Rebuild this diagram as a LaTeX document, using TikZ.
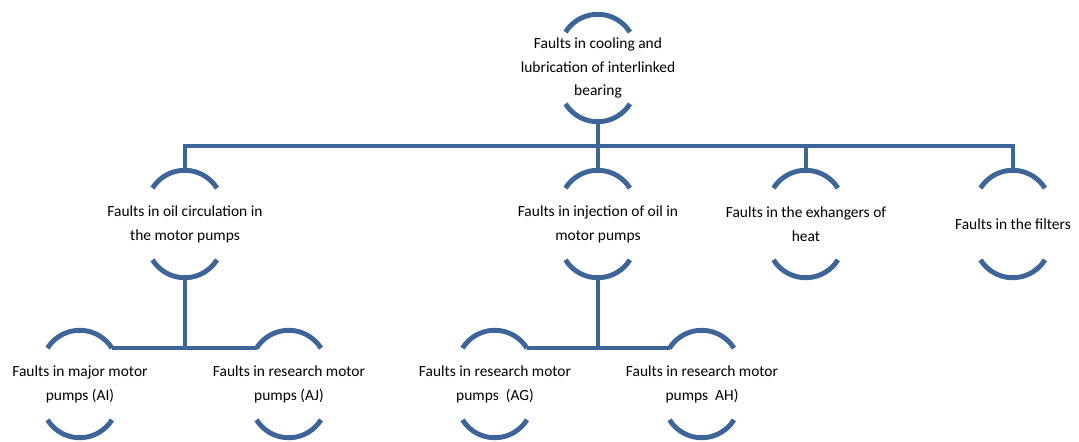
\documentclass[tikz,border=0pt]{standalone}
\usepackage{fontspec}
\setmainfont{Carlito}
\definecolor{faultblue}{RGB}{62,101,152}
\begin{document}
\begin{tikzpicture}[x=0.02cm,y=0.02cm,
    fault/.style={minimum width=1.3cm,minimum height=2.14cm,inner sep=0pt,align=center,
      font=\fontsize{8.8}{13.6}\selectfont},
    link/.style={draw=faultblue,line width=2.6pt},
    brace/.style={draw=faultblue,line width=2.8pt}]
  \useasboundingbox (0,0) rectangle (1079,-441);
  \node[fault] (cool) at (598,-68) {Faults in cooling and\\lubrication of interlinked\\bearing};
  \node[fault] (oil) at (185,-224) {Faults in oil circulation in\\the motor pumps};
  \node[fault] (inj) at (598,-224) {Faults in injection of oil in\\motor pumps};
  \node[fault] (heat) at (806,-224) {Faults in the exhangers of\\heat};
  \node[fault] (filt) at (1013,-224) {Faults in the filters};
  \node[fault] (ai) at (80,-384) {Faults in major motor\\pumps (AI)};
  \node[fault] (aj) at (289,-384) {Faults in research motor\\pumps (AJ)};
  \node[fault] (ag) at (495,-384) {Faults in research motor\\pumps~~(AG)};
  \node[fault] (ah) at (702,-384) {Faults in research motor\\pumps~~AH)};
  \foreach \n in {cool,oil,inj,heat,filt,ai,aj,ag,ah}{
    \draw[brace] ([shift={(-0.65cm,-0.36cm)}]\n.north) coordinate (\n-l)
      arc[start angle=148,end angle=32,radius=0.76cm] coordinate (\n-r);
    \draw[brace] ([shift={(-0.65cm,0.36cm)}]\n.south)
      arc[start angle=212,end angle=328,radius=0.76cm];
  }
  \coordinate (bus) at (598,-146);
  \draw[link] (cool.south) -- (inj.north);
  \draw[link] (oil.north) |- (bus) -| (filt.north);
  \draw[link] (heat.north) -- (heat.north |- bus);
  \draw[link] (oil.south) -- (oil.south |- ai-r);
  \draw[link] (ai-r) -- (aj-l);
  \draw[link] (inj.south) -- (inj.south |- ag-r);
  \draw[link] (ag-r) -- (ah-l);
\end{tikzpicture}
\end{document}
